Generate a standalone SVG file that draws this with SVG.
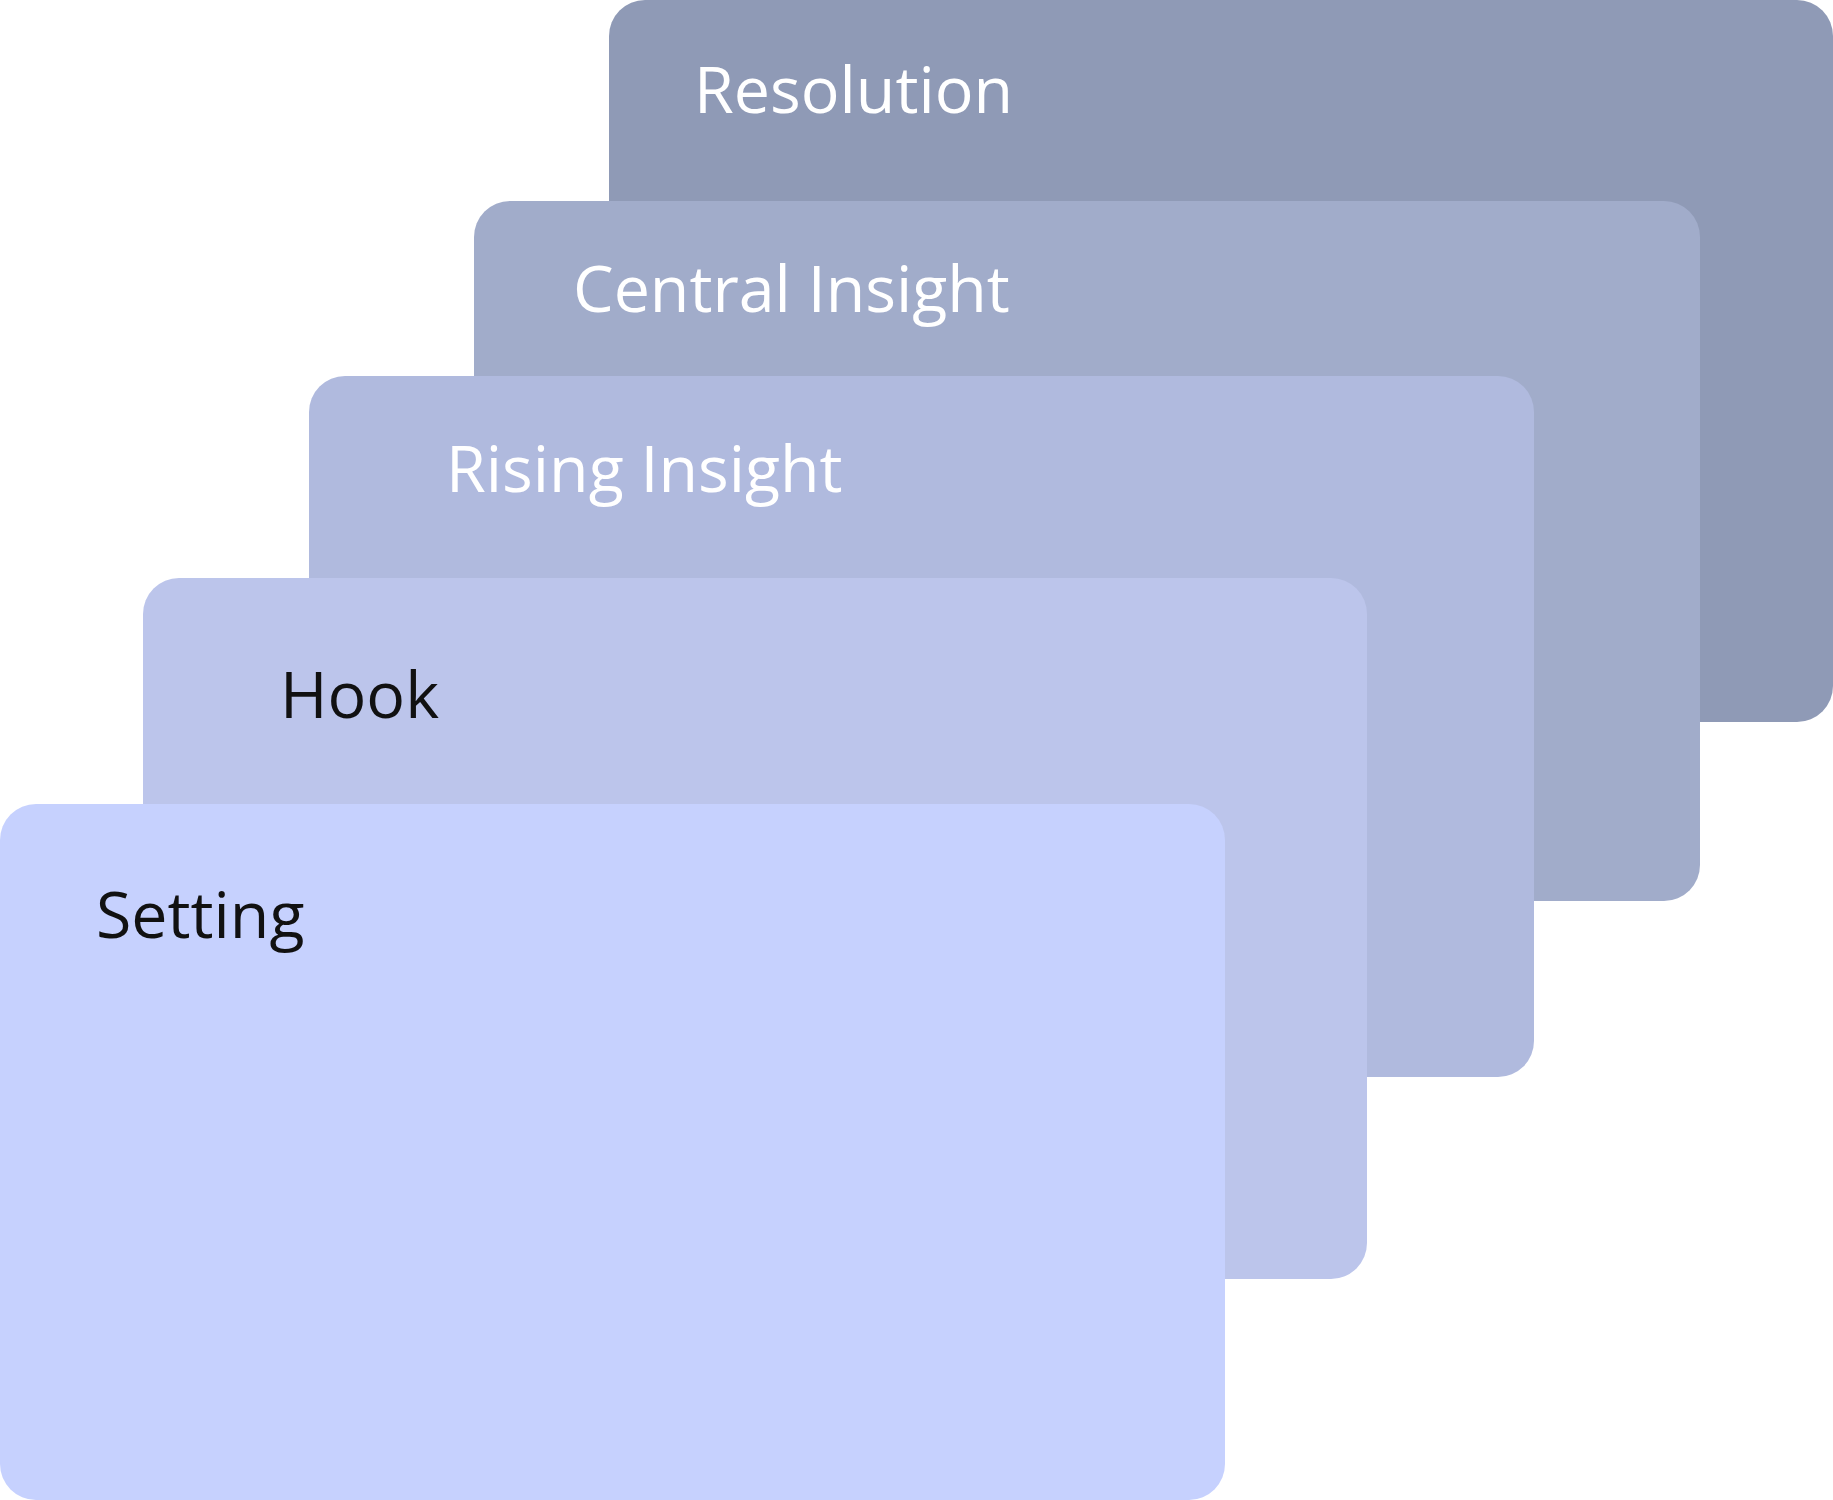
<svg xmlns="http://www.w3.org/2000/svg" width="1833" height="1500" viewBox="0 0 1833 1500">
<style>
.lbl{font-family:"Open Sans","Noto Sans","DejaVu Sans",sans-serif;font-size:64.5px}
.light{fill:#ffffff}
.dark{fill:#111111}
</style>
<rect width="1833" height="1500" fill="#ffffff"/>
<g id="resolution">
<rect x="609" y="0" width="1224" height="722" rx="36" fill="#8F9AB6"/>
<text class="lbl light" x="694" y="113">Resolution</text>
</g>
<g id="central-insight">
<rect x="474" y="201" width="1226" height="700" rx="36" fill="#A1ACCA"/>
<text class="lbl light" x="573" y="312">Central Insight</text>
</g>
<g id="rising-insight">
<rect x="309" y="376" width="1225" height="701" rx="36" fill="#B0BADE"/>
<text class="lbl light" x="446" y="492">Rising Insight</text>
</g>
<g id="hook">
<rect x="143" y="578" width="1224" height="701" rx="36" fill="#BCC5EB"/>
<text class="lbl dark" x="280" y="718">Hook</text>
</g>
<g id="setting">
<rect x="0" y="804" width="1225" height="696" rx="36" fill="#C6D1FE"/>
<text class="lbl dark" x="96" y="938">Setting</text>
</g>
<g id="connectors"/>
</svg>
